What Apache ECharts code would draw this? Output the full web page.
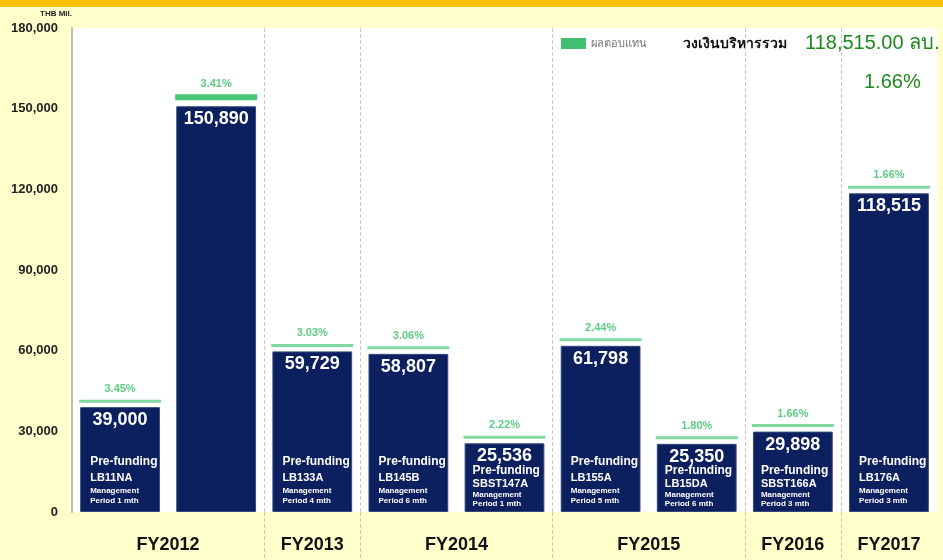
<!DOCTYPE html>
<html>
<head>
<meta charset="utf-8">
<script src="https://cdn.jsdelivr.net/npm/echarts@6/dist/echarts.min.js"></script>
<style>
  html, body { margin: 0; padding: 0; background: #FFFFCC; }
  #main { width: 943px; height: 560px; }
</style>
</head>
<body>
<div id="main"></div>
<script>
// ข้อมูลกองทุน
var funds = ['LB11NA', '', 'LB133A', 'LB145B', 'SBST147A', 'LB155A', 'LB15DA', 'SBST166A', 'LB176A'];
var periods = ['1 mth', '', '4 mth', '6 mth', '1 mth', '5 mth', '6 mth', '3 mth', '3 mth'];
var amounts = [39000, 150890, 59729, 58807, 25536, 61798, 25350, 29898, 118515];
var rates = [3.45, 3.41, 3.03, 3.06, 2.22, 2.44, 1.80, 1.66, 1.66];
var fyLabels = ['FY2012', 'FY2013', 'FY2014', 'FY2015', 'FY2016', 'FY2017'];
var fyGroups = [2, 1, 2, 2, 1, 1];
var yTicks = [0, 30000, 60000, 90000, 120000, 150000, 180000];

var font = 'Liberation Sans';
var navy = '#0C1F5E';

// 半格坐标: 每根柱占两格, 年份标签放在组中心, 分隔线放在组边界
var halfSlots = [];
for (var i = 0; i <= amounts.length * 2; i++) halfSlots.push('');
var sepIdx = {};
var pos = 0;
fyGroups.forEach(function (n, g) {
    halfSlots[pos + n] = fyLabels[g];
    pos += n * 2;
    if (pos > 0 && pos < amounts.length * 2) sepIdx[pos] = true;
});

function fmt(v) {
    return String(v).replace(/\B(?=(\d{3})+(?!\d))/g, ',');
}

// 柱内说明文字: 矮柱排得紧一些
function descRich(tall) {
    return {
        a: { fontSize: 12, fontWeight: 'bold', color: '#fff', lineHeight: tall ? 17 : 13 },
        b: { fontSize: 11, fontWeight: 'bold', color: '#fff', lineHeight: tall ? 16 : 13 },
        c: { fontSize: 8, fontWeight: 'bold', color: '#fff', lineHeight: tall ? 10 : 9 }
    };
}

var chart = echarts.init(document.getElementById('main'));

chart.setOption({
    backgroundColor: '#FFFFCC',
    textStyle: { fontFamily: font },
    animation: false,
    grid: {
        left: 72, right: 6, top: 28, bottom: 48,
        show: true, backgroundColor: '#ffffff', borderWidth: 0
    },
    legend: {
        left: 556, top: 33,
        itemWidth: 25, itemHeight: 11,
        icon: 'rect',
        textStyle: { color: '#777', fontSize: 11 },
        data: ['ผลตอบแทน']
    },
    graphic: [
        { type: 'rect', left: 0, top: 0, shape: { width: 943, height: 7 }, style: { fill: '#FFC000' } },
        { type: 'text', left: 40, top: 10, style: { text: 'THB Mil.', fontSize: 8, fontWeight: 'bold', fill: '#222', fontFamily: font } },
        { type: 'text', left: 683, top: 37, style: { text: 'วงเงินบริหารรวม', fontSize: 14, fontWeight: 'bold', fill: '#111', fontFamily: font } },
        { type: 'text', left: 805, top: 33, style: { text: fmt(amounts[8]) + '.00 ลบ.', fontSize: 20, fill: '#1E8A1E', fontFamily: font } },
        { type: 'text', left: 864, top: 72, style: { text: rates[8].toFixed(2) + '%', fontSize: 20, fill: '#1E8A1E', fontFamily: font } }
    ],
    xAxis: [
        {
            type: 'category',
            data: funds,
            axisLine: { show: false },
            axisTick: { show: false },
            axisLabel: { show: false }
        },
        {
            type: 'category',
            data: halfSlots,
            boundaryGap: false,
            position: 'bottom',
            axisLine: { show: false },
            axisTick: {
                show: true, length: 48,
                interval: function (idx) { return !!sepIdx[idx]; },
                lineStyle: { color: '#c8c8c8', type: 'dashed' }
            },
            splitLine: {
                show: true,
                interval: function (idx) { return !!sepIdx[idx]; },
                lineStyle: { color: '#c8c8c8', type: 'dashed' }
            },
            axisLabel: {
                interval: 0, margin: 24,
                fontSize: 18, fontWeight: 'bold', color: '#111'
            }
        }
    ],
    yAxis: {
        type: 'value',
        min: yTicks[0], max: yTicks[yTicks.length - 1], interval: 30000,
        axisLine: { show: true, lineStyle: { color: '#bdbdbd', width: 2 } },
        axisTick: { show: false },
        splitLine: { show: false },
        axisLabel: {
            fontSize: 13, fontWeight: 'bold', color: '#222', margin: 14,
            formatter: function (v) { return fmt(v); }
        }
    },
    series: [
        {
            name: 'amount',
            type: 'bar',
            data: amounts,
            barCategoryGap: '17%',
            itemStyle: { color: navy, borderColor: '#34487f', borderWidth: 1 },
            label: {
                show: true, position: 'insideTop', distance: 4,
                color: '#fff', fontSize: 18, fontWeight: 'bold',
                formatter: function (p) { return fmt(p.value); }
            },
            z: 2
        },
        {
            name: 'desc',
            type: 'bar',
            data: amounts.map(function (v) {
                var tall = v > 35000;
                return {
                    value: v,
                    label: { distance: tall ? 6 : 4, offset: [4, 0], rich: descRich(tall) }
                };
            }),
            barGap: '-100%',
            barCategoryGap: '17%',
            itemStyle: { color: 'rgba(0,0,0,0)' },
            label: {
                show: true, position: 'insideBottomLeft',
                color: '#fff',
                formatter: function (p) {
                    var f = funds[p.dataIndex];
                    if (!f) return '';
                    return '{a|Pre-funding}\n{b|' + f + '}\n{c|Management}\n{c|Period ' + periods[p.dataIndex] + '}';
                }
            },
            z: 3
        },
        {
            name: 'ผลตอบแทน',
            type: 'scatter',
            data: amounts.map(function (v, i) {
                var big = i === 1;
                return {
                    value: v,
                    symbolSize: big ? [82, 6] : [82, 3],
                    symbolOffset: big ? [0, -9] : [0, -6],
                    itemStyle: { color: big ? '#1DB954' : '#62D08A' }
                };
            }),
            symbol: 'rect',
            itemStyle: { color: '#12B04F' },
            label: {
                show: true, position: 'top', distance: 5,
                color: '#33C163', fontSize: 11, fontWeight: 'bold',
                formatter: function (p) { return rates[p.dataIndex].toFixed(2) + '%'; }
            },
            z: 4
        }
    ]
});
</script>
</body>
</html>
